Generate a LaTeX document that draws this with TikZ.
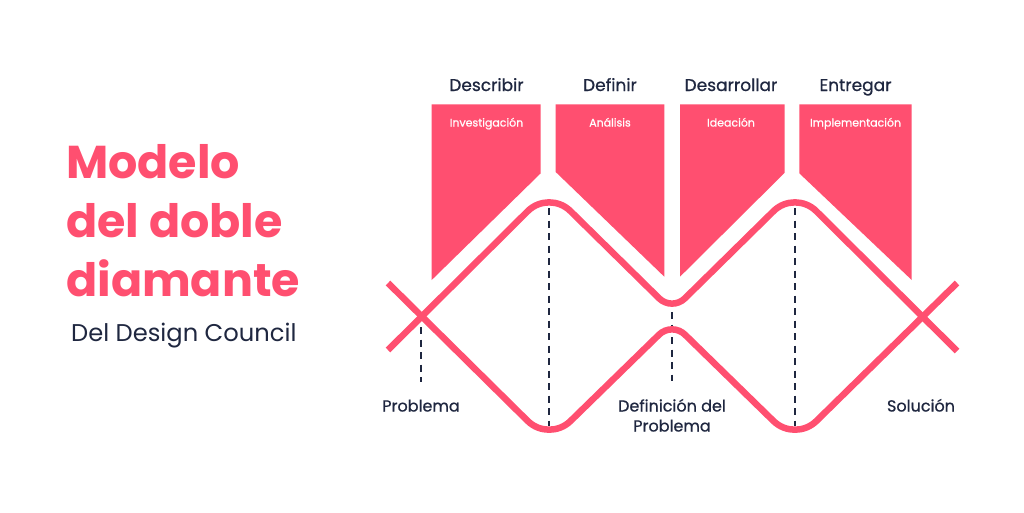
\documentclass[tikz,border=0pt]{standalone}
\usepackage{fontspec}
\setmainfont{Poppins}
\newfontfamily\medium[FakeBold=0.7]{Poppins}
\definecolor{ddpink}{HTML}{FF4F70}
\definecolor{ddnavy}{HTML}{1F2740}
\begin{document}
\begin{tikzpicture}[x=1pt,y=-1pt,
  banner/.style={fill=ddpink, draw=none},
  stage/.style={font=\medium\fontsize{17}{20}\selectfont, text=ddnavy, anchor=base, inner sep=0pt},
  activity/.style={font=\medium\fontsize{11}{13}\selectfont, text=white, anchor=base, inner sep=0pt},
  wave/.style={draw=ddpink, line width=6.5pt},
  guide/.style={draw=ddnavy, line width=2.2pt, dash pattern=on 7pt off 5.5pt},
  milestone/.style={font=\medium\fontsize{16}{20}\selectfont, text=ddnavy, anchor=base, inner sep=0pt},
  headline/.style={font=\fontsize{46}{50}\bfseries\selectfont, text=ddpink, anchor=base west, inner sep=0pt},
]
\useasboundingbox (0,0) rectangle (1024,512);
\fill[white] (0,0) rectangle (1024,512);

% title block
\node[headline] (t1) at (66,178) {Modelo};
\node[headline] (t2) at (66,237) {del doble};
\node[headline] (t3) at (66,296) {diamante};
\node[font=\fontsize{24.2}{27}\selectfont, text=ddnavy, anchor=base west, inner sep=0pt] (sub) at (71,341) {Del Design Council};

% phase banners
\fill[banner] (431.7,104.3) -- (540.7,104.3) -- (540.7,173.3) -- (431.7,280) -- cycle;
\fill[banner] (555.7,104.3) -- (664.3,104.3) -- (664.3,276.7) -- (555.7,172) -- cycle;
\fill[banner] (680,104.3) -- (784.7,104.3) -- (784.7,172.7) -- (680,276.7) -- cycle;
\fill[banner] (799.3,104.3) -- (911.7,104.3) -- (911.7,280) -- (799.3,173.3) -- cycle;

\node[stage] (s1) at (486.5,91) {Describir};
\node[stage] (s2) at (610,91) {Definir};
\node[stage] (s3) at (731,91) {Desarrollar};
\node[stage] (s4) at (855.5,91) {Entregar};

\node[activity] (a1) at (486.5,126.5) {Investigación};
\node[activity] (a2) at (610,126.5) {Análisis};
\node[activity] (a3) at (731,126.5) {Ideación};
\node[activity] (a4) at (855.5,126.5) {Implementación};

% wave vertices
\coordinate (uL) at (388,350);
\coordinate (uP1) at (549,190);
\coordinate (uV) at (672,311);
\coordinate (uP2) at (795,190);
\coordinate (uR) at (957,351);
\coordinate (lL) at (388,283);
\coordinate (lV1) at (549,442);
\coordinate (lP) at (672,322);
\coordinate (lV2) at (795,442);
\coordinate (lR) at (957,283);

% dashed guides
\coordinate (g1t) at (421,327); \coordinate (g1b) at (421,382);
\coordinate (g2t) at (549,208); \coordinate (g2b) at (549,426);
\coordinate (g3t) at (672,312); \coordinate (g3b) at (672,381);
\coordinate (g4t) at (795,208); \coordinate (g4b) at (795,426);
\draw[guide] (g1t) -- (g1b);
\draw[guide] (g2t) -- (g2b);
\draw[guide] (g3t) -- (g3b);
\draw[guide] (g4t) -- (g4b);

% the two waves
\draw[wave] (uL) [rounded corners=30pt] -- (uP1) [rounded corners=18pt] -- (uV) [rounded corners=30pt] -- (uP2) -- (uR);
\draw[wave] (lL) [rounded corners=30pt] -- (lV1) [rounded corners=18pt] -- (lP) [rounded corners=30pt] -- (lV2) -- (lR);

% milestones
\node[milestone] (m1) at (421,411.5) {Problema};
\node[milestone] (m2) at (672,411.5) {Definición del};
\node[milestone] (m2b) at (672,431.5) {Problema};
\node[milestone] (m3) at (921,411.5) {Solución};
\end{tikzpicture}
\end{document}
